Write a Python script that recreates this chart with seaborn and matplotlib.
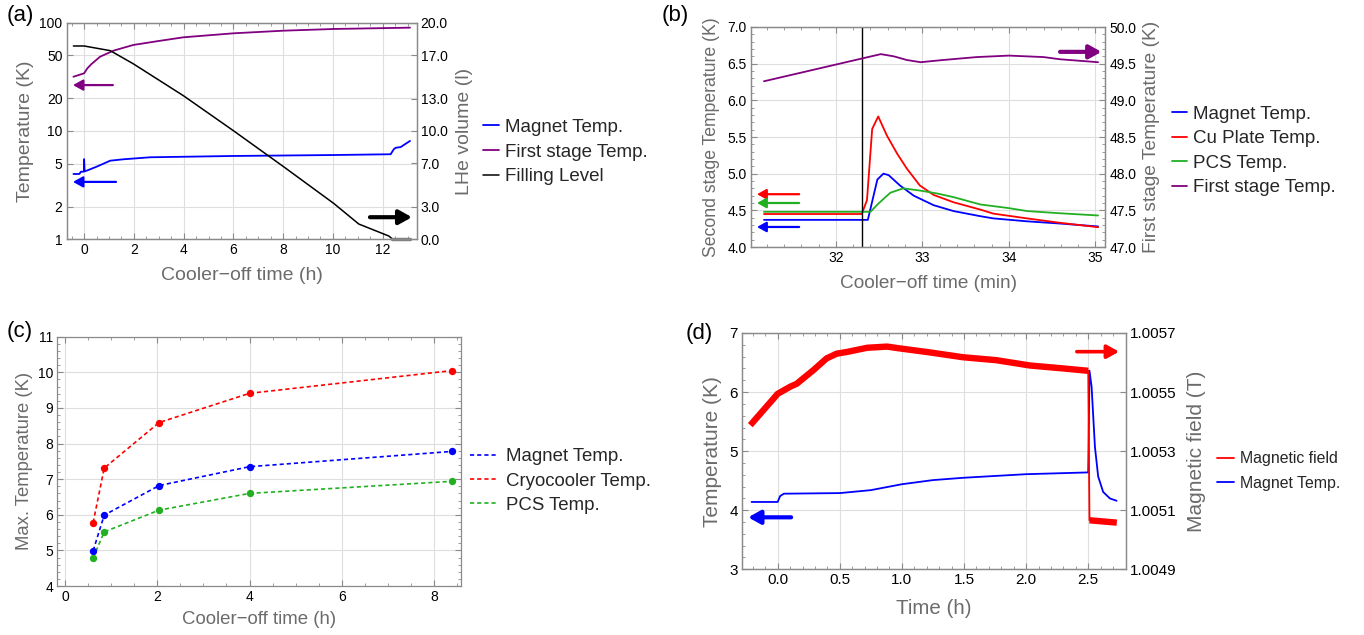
import matplotlib
matplotlib.use("Agg")
import matplotlib.pyplot as plt
import seaborn as sns
from matplotlib.lines import Line2D
from matplotlib.ticker import MultipleLocator, FixedLocator, FormatStrFormatter, FuncFormatter, NullLocator

# ---------------- Panel (a) data ----------------
a_first_t = [-0.43, 0.0, 0.13, 0.3, 0.64, 1.18, 1.98, 3.0, 3.99, 6.0, 8.02, 10.03, 13.1]
a_first_K = [31.7, 34.1, 37.9, 41.6, 48.5, 55.2, 62.3, 67.8, 73.3, 79.8, 84.4, 87.5, 90.0]
a_mag_t = [-0.43, -0.19, -0.13, -0.01, 0.0, 0.02, 0.1, 0.5, 1.05, 1.58, 2.66, 6.0, 10.03, 12.32, 12.45, 12.52, 12.72, 13.1]
a_mag_K = [4.01, 4.01, 4.21, 4.21, 5.5, 4.25, 4.3, 4.68, 5.32, 5.48, 5.72, 5.88, 6.0, 6.1, 6.8, 7.0, 7.1, 8.1]
a_lhe_t = [-0.43, 0.0, 1.05, 1.98, 3.99, 6.0, 8.02, 10.03, 11.04, 12.25, 12.38]
a_lhe_l = [17.85, 17.85, 17.42, 16.2, 13.26, 10.03, 6.7, 3.32, 1.41, 0.30, 0.05]
a_empty_t = [12.38, 13.1]
a_empty_l = [0.05, 0.05]
a_left_ticks = [1, 2, 5, 10, 20, 50, 100]
a_right_ticks = [0, 3, 7, 10, 13, 17, 20]

# ---------------- Panel (b) data ----------------
b_t_cu = [31.17, 32.30, 32.36, 32.42, 32.49, 32.59, 32.71, 32.82, 32.97, 33.13, 33.36, 33.67, 33.82, 34.21, 34.59, 35.03]
b_cu = [4.45, 4.45, 4.64, 5.61, 5.78, 5.52, 5.27, 5.07, 4.84, 4.71, 4.61, 4.51, 4.455, 4.39, 4.33, 4.27]
b_t_mag = [31.17, 32.37, 32.48, 32.55, 32.61, 32.74, 32.90, 33.13, 33.36, 33.67, 33.82, 34.21, 34.59, 35.03]
b_mag = [4.37, 4.37, 4.92, 5.0, 4.98, 4.84, 4.70, 4.57, 4.49, 4.42, 4.39, 4.35, 4.32, 4.28]
b_t_pcs = [31.17, 32.40, 32.49, 32.63, 32.78, 32.97, 33.17, 33.36, 33.67, 34.0, 34.21, 34.59, 35.03]
b_pcs = [4.48, 4.48, 4.59, 4.74, 4.80, 4.77, 4.73, 4.68, 4.58, 4.53, 4.49, 4.46, 4.43]
b_t_first = [31.17, 32.30, 32.52, 32.67, 32.82, 32.98, 33.24, 33.63, 34.0, 34.4, 34.59, 35.03]
b_first = [49.26, 49.57, 49.63, 49.60, 49.55, 49.52, 49.55, 49.59, 49.61, 49.59, 49.56, 49.52]
b_event = 32.3

# ---------------- Panel (c) data ----------------
c_time = [0.61, 0.85, 2.04, 4.0, 8.4]
c_magnet = [4.99, 5.99, 6.82, 7.35, 7.78]
c_cryo = [5.78, 7.31, 8.59, 9.41, 10.05]
c_pcs = [4.79, 5.52, 6.13, 6.60, 6.94]

# ---------------- Panel (d) data ----------------
d_field_t = [-0.22, 0.0, 0.1, 0.153, 0.287, 0.394, 0.475, 0.56, 0.72, 0.88, 0.98, 1.23, 1.49, 1.76, 2.03, 2.30, 2.50, 2.51, 2.73]
d_field_T = [1.005388, 1.005494, 1.005518, 1.005528, 1.005574, 1.005614, 1.005630, 1.005636, 1.005650,
             1.005654, 1.005648, 1.005634, 1.005618, 1.005608, 1.005590, 1.005580, 1.005572, 1.005066, 1.005058]
d_field_drop = 16  # index of the last point before the quench drop
d_mag_t = [-0.21, 0.0, 0.02, 0.05, 0.5, 0.75, 1.0, 1.25, 1.5, 2.0, 2.5, 2.51, 2.527, 2.554, 2.58, 2.62, 2.674, 2.728]
d_mag_K = [4.14, 4.14, 4.24, 4.28, 4.29, 4.34, 4.44, 4.51, 4.55, 4.61, 4.64, 6.36, 6.09, 5.07, 4.57, 4.31, 4.20, 4.16]
d_right_ticks = [1.0049, 1.0051, 1.0053, 1.0055, 1.0057]

# ---------------- style ----------------
sns.set_style("ticks")
plt.rcParams['font.family'] = ['Liberation Sans', 'DejaVu Sans']

W, H = 1364, 635
fig = plt.figure(figsize=(W / 100, H / 100), dpi=100)


def px_rect(l, t, r, b):
    return [l / W, 1 - b / H, (r - l) / W, (b - t) / H]


SPINE = '#8a8a8a'
LABEL = '#6b6b6b'
GRID = '#dedede'
BLUE = '#0000ff'
RED = '#ff0000'
GREEN = '#22b022'
PURPLE = '#800080'


def style_axes(ax, size=10):
    for s in ax.spines.values():
        s.set_color(SPINE)
        s.set_linewidth(0.9)
        s.set_visible(True)
    ax.tick_params(which='both', direction='in', color=SPINE, labelcolor='black',
                   labelsize=size, top=True, right=False, pad=3)
    ax.tick_params(which='major', length=4, width=0.8)
    ax.tick_params(which='minor', length=2, width=0.6)
    ax.set_axisbelow(True)
    ax.grid(True, which='major', color=GRID, linewidth=0.8)


def style_twin(ax2, size=10):
    for s in ax2.spines.values():
        s.set_color(SPINE)
        s.set_linewidth(0.9)
    ax2.tick_params(which='both', direction='in', color=SPINE, labelcolor='black',
                    labelsize=size, right=True, left=False, pad=3)
    ax2.tick_params(which='major', length=4, width=0.8)
    ax2.tick_params(which='minor', length=2, width=0.6)
    ax2.grid(False)


def arrow(ax, tail, head, color, lw, ms):
    ax.annotate('', xy=head, xytext=tail, xycoords='axes fraction', textcoords='axes fraction',
                arrowprops=dict(arrowstyle='-|>,head_length=0.45,head_width=0.25', color=color,
                                lw=lw, shrinkA=0, shrinkB=0, mutation_scale=ms))


def drop_legend(ax):
    leg = ax.get_legend()
    if leg is not None:
        leg.remove()


def add_legend(handles, labels, x, y, size, hl, tp, ls):
    fig.legend(handles, labels, loc='center left', bbox_to_anchor=(x / W, 1 - y / H),
               frameon=False, fontsize=size, handlelength=hl, handletextpad=tp,
               labelspacing=ls, borderpad=0, borderaxespad=0)


# ================= Panel (a) =================
ax_a = fig.add_axes(px_rect(66.7, 22.7, 416.5, 239.3))
ax_a.set_yscale('log')
style_axes(ax_a)
sns.lineplot(x=a_mag_t, y=a_mag_K, ax=ax_a, color=BLUE, lw=1.3, estimator=None, sort=False, label='Magnet Temp.')
sns.lineplot(x=a_first_t, y=a_first_K, ax=ax_a, color=PURPLE, lw=1.3, estimator=None, sort=False, label='First stage Temp.')
ax_a.set_xlim(-0.70, 13.36)
ax_a.set_ylim(1, 100)
ax_a.yaxis.set_major_locator(FixedLocator(a_left_ticks))
ax_a.yaxis.set_major_formatter(FuncFormatter(lambda v, p: '%g' % v))
ax_a.yaxis.set_minor_locator(NullLocator())
ax_a.xaxis.set_major_locator(MultipleLocator(2))
ax_a.xaxis.set_minor_locator(MultipleLocator(0.5))
ax_a.set_xlabel('Cooler\u2212off time (h)', fontsize=14, color=LABEL)
ax_a.set_ylabel('Temperature (K)', fontsize=14, color=LABEL)
ax_a.xaxis.set_label_coords(0.5, -0.13)
ax_a.yaxis.set_label_coords(-0.094, 0.5)

ax_a2 = ax_a.twinx()
style_twin(ax_a2)
sns.lineplot(x=a_lhe_t, y=a_lhe_l, ax=ax_a2, color='black', lw=1.1, estimator=None, sort=False, label='Filling Level')
sns.lineplot(x=a_empty_t, y=a_empty_l, ax=ax_a2, color='#808080', lw=2.5, estimator=None, sort=False, clip_on=False)
ax_a2.set_ylim(0, 20)
ax_a2.yaxis.set_major_locator(FixedLocator(a_right_ticks))
ax_a2.yaxis.set_major_formatter(FormatStrFormatter('%.1f'))
ax_a2.yaxis.set_minor_locator(NullLocator())
ax_a2.set_ylabel('LHe volume (l)', fontsize=14, color=LABEL)
ax_a2.yaxis.set_label_coords(1.112, 0.5)

arrow(ax_a, (0.132, 0.712), (0.018, 0.712), PURPLE, 1.6, 13)
arrow(ax_a, (0.141, 0.265), (0.018, 0.265), BLUE, 1.6, 13)
arrow(ax_a, (0.867, 0.102), (0.987, 0.102), 'black', 3.0, 17)

h1, l1 = ax_a.get_legend_handles_labels()
h2, l2 = ax_a2.get_legend_handles_labels()
drop_legend(ax_a)
drop_legend(ax_a2)
add_legend(h1 + h2, l1 + l2, 483, 152, 13.5, 0.85, 0.32, 0.4)

# ================= Panel (b) =================
ax_b = fig.add_axes(px_rect(751, 27, 1105, 247))
style_axes(ax_b)
sns.lineplot(x=b_t_mag, y=b_mag, ax=ax_b, color=BLUE, lw=1.3, estimator=None, sort=False, label='Magnet Temp.')
sns.lineplot(x=b_t_cu, y=b_cu, ax=ax_b, color=RED, lw=1.3, estimator=None, sort=False, label='Cu Plate Temp.')
sns.lineplot(x=b_t_pcs, y=b_pcs, ax=ax_b, color=GREEN, lw=1.3, estimator=None, sort=False, label='PCS Temp.')
ax_b.axvline(b_event, color='black', lw=1.0)
ax_b.set_xlim(31.02, 35.11)
ax_b.set_ylim(4, 7)
ax_b.xaxis.set_major_locator(MultipleLocator(1))
ax_b.xaxis.set_minor_locator(MultipleLocator(0.2))
ax_b.yaxis.set_major_locator(MultipleLocator(0.5))
ax_b.yaxis.set_major_formatter(FormatStrFormatter('%.1f'))
ax_b.yaxis.set_minor_locator(MultipleLocator(0.1))
ax_b.set_xlabel('Cooler\u2212off time (min)', fontsize=13.7, color=LABEL)
ax_b.set_ylabel('Second stage Temperature (K)', fontsize=12.7, color=LABEL)
ax_b.xaxis.set_label_coords(0.5, -0.125)
ax_b.yaxis.set_label_coords(-0.088, 0.5)

ax_b2 = ax_b.twinx()
style_twin(ax_b2)
sns.lineplot(x=b_t_first, y=b_first, ax=ax_b2, color=PURPLE, lw=1.3, estimator=None, sort=False, label='First stage Temp.')
ax_b2.set_ylim(47, 50)
ax_b2.yaxis.set_major_locator(MultipleLocator(0.5))
ax_b2.yaxis.set_major_formatter(FormatStrFormatter('%.1f'))
ax_b2.yaxis.set_minor_locator(MultipleLocator(0.1))
ax_b2.set_ylabel('First stage Temperature (K)', fontsize=13.8, color=LABEL)
ax_b2.yaxis.set_label_coords(1.107, 0.5)

arrow(ax_b, (0.136, 0.240), (0.017, 0.240), RED, 1.6, 12)
arrow(ax_b, (0.136, 0.200), (0.017, 0.200), GREEN, 1.6, 12)
arrow(ax_b, (0.136, 0.091), (0.017, 0.091), BLUE, 1.6, 12)
arrow(ax_b, (0.873, 0.887), (0.990, 0.887), PURPLE, 3.0, 16)

h1, l1 = ax_b.get_legend_handles_labels()
h2, l2 = ax_b2.get_legend_handles_labels()
drop_legend(ax_b)
drop_legend(ax_b2)
add_legend(h1 + h2, l1 + l2, 1172, 151, 13.5, 0.8, 0.32, 0.4)

# ================= Panel (c) =================
ax_c = fig.add_axes(px_rect(57.3, 336.7, 461, 586))
style_axes(ax_c)
ax_c.tick_params(which='both', right=True)
dash = (0, (2.5, 1.8))
for vals, col, lab in [(c_magnet, BLUE, 'Magnet Temp.'), (c_cryo, RED, 'Cryocooler Temp.'), (c_pcs, GREEN, 'PCS Temp.')]:
    sns.lineplot(x=c_time, y=vals, ax=ax_c, color=col, lw=1.2, linestyle=dash, estimator=None, sort=False, label=lab)
    sns.scatterplot(x=c_time, y=vals, ax=ax_c, color=col, s=28, linewidth=0, zorder=3)
ax_c.set_xlim(-0.167, 8.585)
ax_c.set_ylim(4, 11)
ax_c.xaxis.set_major_locator(MultipleLocator(2))
ax_c.xaxis.set_minor_locator(MultipleLocator(0.5))
ax_c.yaxis.set_major_locator(MultipleLocator(1))
ax_c.yaxis.set_minor_locator(MultipleLocator(0.2))
ax_c.set_xlabel('Cooler\u2212off time (h)', fontsize=13.4, color=LABEL)
ax_c.set_ylabel('Max. Temperature (K)', fontsize=13.3, color=LABEL)
ax_c.xaxis.set_label_coords(0.5, -0.100)
ax_c.yaxis.set_label_coords(-0.060, 0.5)
h1, l1 = ax_c.get_legend_handles_labels()
drop_legend(ax_c)
add_legend(h1, l1, 470, 481, 13.4, 1.5, 0.43, 0.4)

# ================= Panel (d) =================
ax_d = fig.add_axes(px_rect(742, 333, 1126, 569.3))
style_axes(ax_d, size=11)
sns.lineplot(x=d_mag_t, y=d_mag_K, ax=ax_d, color=BLUE, lw=1.3, estimator=None, sort=False, label='Magnet Temp.')
ax_d.set_xlim(-0.287, 2.804)
ax_d.set_ylim(3, 7)
ax_d.xaxis.set_major_locator(MultipleLocator(0.5))
ax_d.xaxis.set_major_formatter(FormatStrFormatter('%.1f'))
ax_d.xaxis.set_minor_locator(MultipleLocator(0.1))
ax_d.yaxis.set_major_locator(MultipleLocator(1))
ax_d.yaxis.set_minor_locator(MultipleLocator(0.2))
ax_d.set_xlabel('Time (h)', fontsize=14.8, color=LABEL)
ax_d.set_ylabel('Temperature (K)', fontsize=15, color=LABEL)
ax_d.xaxis.set_label_coords(0.5, -0.125)
ax_d.yaxis.set_label_coords(-0.052, 0.5)

ax_d2 = ax_d.twinx()
style_twin(ax_d2, size=11)
k = d_field_drop
# noisy (thick) trace before and after the quench, thin vertical drop in between
sns.lineplot(x=d_field_t[:k + 1], y=d_field_T[:k + 1], ax=ax_d2, color=RED, lw=4.6, estimator=None, sort=False,
             solid_joinstyle='round', solid_capstyle='butt')
sns.lineplot(x=d_field_t[k:k + 2], y=d_field_T[k:k + 2], ax=ax_d2, color=RED, lw=1.3, estimator=None, sort=False)
sns.lineplot(x=d_field_t[k + 1:], y=d_field_T[k + 1:], ax=ax_d2, color=RED, lw=4.6, estimator=None, sort=False,
             solid_capstyle='butt')
ax_d2.set_ylim(1.0049, 1.0057)
ax_d2.yaxis.set_major_locator(FixedLocator(d_right_ticks))
ax_d2.yaxis.set_major_formatter(FormatStrFormatter('%.4f'))
ax_d2.yaxis.set_minor_locator(NullLocator())
ax_d2.set_ylabel('Magnetic field (T)', fontsize=15, color=LABEL)
ax_d2.yaxis.set_label_coords(1.159, 0.5)

arrow(ax_d, (0.128, 0.220), (0.016, 0.220), BLUE, 3.0, 16)
arrow(ax_d, (0.872, 0.921), (0.982, 0.921), RED, 2.6, 16)

h1, l1 = ax_d.get_legend_handles_labels()
drop_legend(ax_d)
drop_legend(ax_d2)
field_handle = Line2D([], [], color=RED, lw=1.3)
add_legend([field_handle] + h1, ['Magnetic field'] + l1, 1217, 471, 11.4, 1.08, 0.38, 0.62)

# ---------------- panel labels ----------------
for txt, x, y in [('(a)', 20, 16), ('(b)', 675, 15), ('(c)', 20, 331), ('(d)', 699, 334)]:
    fig.text(x / W, 1 - y / H, txt, fontsize=16, ha='center', va='center', color='black')

fig.savefig('out.png', dpi=100)
